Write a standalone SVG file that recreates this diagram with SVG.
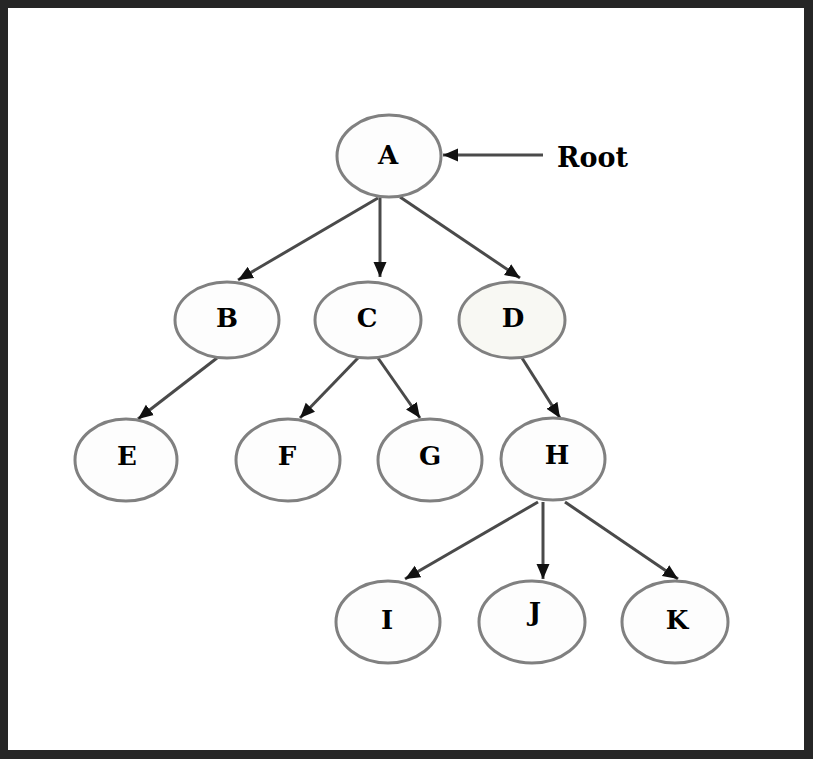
<svg xmlns="http://www.w3.org/2000/svg" width="813" height="759" viewBox="0 0 813 759">
<style>
.node ellipse{fill:#fdfdfd;stroke:#808080;stroke-width:3}
.node text{font-family:"DejaVu Serif","Liberation Serif",serif;font-weight:bold;font-size:26px;fill:#000;text-anchor:middle}
.edges line{stroke:#4a4a4a;stroke-width:3;marker-end:url(#ah)}
.label{font-family:"DejaVu Serif","Liberation Serif",serif;font-weight:bold;font-size:27px;fill:#000}
</style>
<defs>
<marker id="ah" markerUnits="userSpaceOnUse" markerWidth="16" markerHeight="14" refX="15" refY="6.5" orient="auto" viewBox="0 0 16 13">
<path d="M0,0 L15,6.5 L0,13 z" fill="#111"/>
</marker>
</defs>
<rect x="0" y="0" width="813" height="759" fill="#262626"/>
<rect x="8" y="8" width="796" height="742" fill="#ffffff"/>
<g class="edges">
<line x1="378" y1="198" x2="238" y2="280"/>
<line x1="380" y1="198" x2="380" y2="277"/>
<line x1="400" y1="197" x2="520" y2="278"/>
<line x1="543" y1="155" x2="443" y2="155"/>
<line x1="217" y1="358" x2="138" y2="419"/>
<line x1="358" y1="358" x2="300" y2="418"/>
<line x1="378" y1="358" x2="420" y2="418"/>
<line x1="522" y1="358" x2="560" y2="418"/>
<line x1="538" y1="502" x2="405" y2="579"/>
<line x1="543" y1="502" x2="543" y2="579"/>
<line x1="565" y1="502" x2="678" y2="579"/>
</g>
<g id="node-A" class="node"><ellipse cx="389" cy="156" rx="52" ry="41"/><text x="388" y="164">A</text></g>
<g id="node-B" class="node"><ellipse cx="227" cy="320" rx="52" ry="38"/><text x="227" y="327">B</text></g>
<g id="node-C" class="node"><ellipse cx="368" cy="320" rx="53" ry="38"/><text x="367" y="327">C</text></g>
<g id="node-D" class="node"><ellipse cx="512" cy="320" rx="53" ry="38" style="fill:#f8f8f3"/><text x="513" y="327">D</text></g>
<g id="node-E" class="node"><ellipse cx="126" cy="460" rx="51" ry="41"/><text x="127" y="465">E</text></g>
<g id="node-F" class="node"><ellipse cx="288" cy="460" rx="52" ry="41"/><text x="287" y="465">F</text></g>
<g id="node-G" class="node"><ellipse cx="430" cy="460" rx="52" ry="41"/><text x="430" y="465">G</text></g>
<g id="node-H" class="node"><ellipse cx="553" cy="459" rx="52" ry="41"/><text x="557" y="464">H</text></g>
<g id="node-I" class="node"><ellipse cx="388" cy="622" rx="52" ry="41"/><text x="387" y="629">I</text></g>
<g id="node-J" class="node"><ellipse cx="532" cy="622" rx="53" ry="41"/><text x="535" y="621">J</text></g>
<g id="node-K" class="node"><ellipse cx="675" cy="622" rx="53" ry="41"/><text x="677" y="629">K</text></g>
<text class="label" x="557" y="167">Root</text>
</svg>
